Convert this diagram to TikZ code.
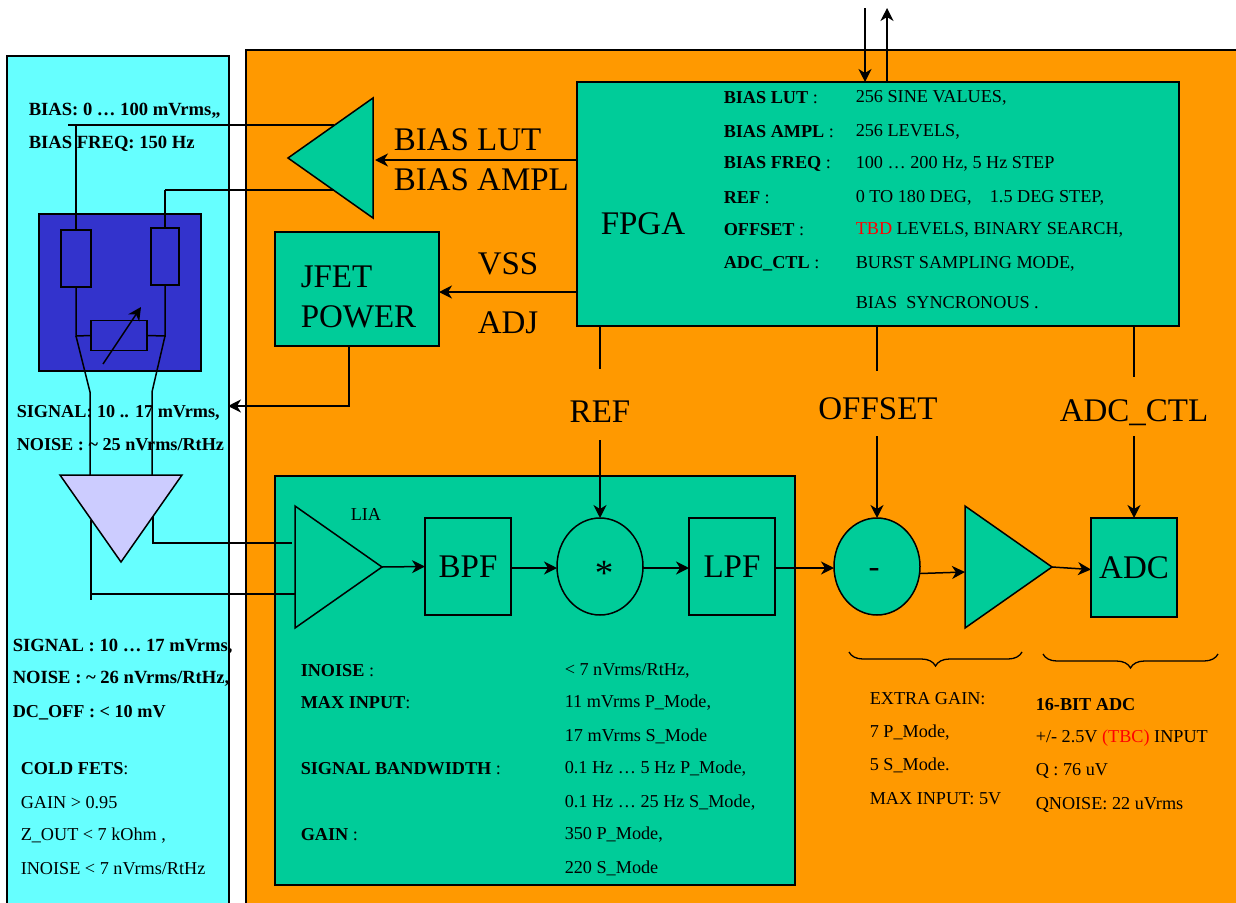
\documentclass[tikz,border=0pt]{standalone}
\usepackage{fontspec}
\setmainfont{Liberation Serif}
\usepackage{xcolor}
\usetikzlibrary{arrows.meta,shapes.geometric,decorations.pathreplacing}
\definecolor{panelcyan}{HTML}{66FFFF}
\definecolor{panelorange}{HTML}{FF9900}
\definecolor{blockgreen}{HTML}{00CC99}
\definecolor{bridgeblue}{HTML}{3333CC}
\definecolor{bufferlilac}{HTML}{CCCCFF}
\newcommand{\bigtxt}{\fontsize{33}{38}\selectfont}
\newcommand{\smalltxt}{\fontsize{18.2}{20}\selectfont}
\newcommand{\sidetxt}{\fontsize{18.6}{20}\selectfont}

\begin{document}
\begin{tikzpicture}[x=1pt,y=-1pt,line width=1.5pt,>={Stealth[length=13pt,width=13pt,inset=4pt]},
  block/.style={draw,fill=blockgreen,outer sep=0pt,inner sep=0pt},
  part/.style={draw,outer sep=0pt,inner sep=0pt,minimum width=#1},
  amp/.style={block,isosceles triangle,isosceles triangle stretches,minimum width=122,minimum height=87,shape border rotate=#1},
  big/.style={font=\bigtxt,inner sep=0pt,yshift=-1pt},
  txt/.style={font=\smalltxt,anchor=west,inner sep=0pt,xshift=-1pt,yshift=-1.5pt},
  btxt/.style={txt,font=\smalltxt\bfseries},
  sidekey/.style={txt,font=\sidetxt\bfseries},
  curly/.style={decorate,decoration={brace,amplitude=14pt},line width=1.3pt}]
\useasboundingbox (0,0) rectangle (1236,902);
\clip (0,0) rectangle (1236,902);

\draw[fill=panelcyan] (7,56) rectangle (229,910);
\draw[fill=panelorange] (246,50) rectangle (1245,910);
\node[part=162,minimum height=157,fill=bridgeblue] (bridge) at (120,292.5) {};

\node[block,minimum width=602,minimum height=244] (fpga) at (878,204) {};
\node[block,minimum width=164,minimum height=114] (jfet) at (357,289) {};
\node[block,minimum width=520,minimum height=409] (lia) at (535,680.5) {};
\node[amp=180,minimum width=120,minimum height=85,anchor=apex] (biasamp) at (288,158) {};
\node[amp=0,anchor=apex] (liaamp) at (382,567) {};
\node[amp=0,anchor=apex] (gainamp) at (1052,567) {};
\node[block,font=\bigtxt,minimum width=86,minimum height=97] (bpf) at (468,566.5) {BPF};
\node[block,font=\bigtxt,minimum width=86,minimum height=97] (lpf) at (732,566.5) {LPF};
\node[block,font=\bigtxt,minimum width=86,minimum height=99] (adc) at (1134,567.5) {ADC};
\node[block,ellipse,minimum width=86,minimum height=97] (mixer) at (600,566.5) {};
\node[block,ellipse,minimum width=86,minimum height=97] (subtract) at (877,566.5) {};
\node[big,font=\fontsize{37}{38}\selectfont] (mixsign) at (604,572) {*};
\node[big] (subsign) at (874,572) {-};

\node[part=30,minimum height=57] (rleft) at (76,258.5) {};
\node[part=28,minimum height=57] (rright) at (165,256.5) {};
\node[part=56,minimum height=30] (pot) at (119,335.5) {};
\coordinate (jleft) at (76,336);
\coordinate (jright) at (165,336);
\coordinate (sigleft) at (90,392);
\coordinate (sigright) at (152,392);
\draw (rleft.south) -- (jleft) -- (pot.west);
\draw (rright.south) -- (jright) -- (pot.east);
\coordinate (potfoot) at (103,364);
\coordinate (pottip) at (141,307);
\draw[->] (potfoot) -- (pottip);

\coordinate (biashigh) at (68,125);
\coordinate (biashighend) at (334,125);
\coordinate (biaslow) at (165,190);
\coordinate (biaslowend) at (334,190);
\draw (biashigh) -- (biashighend);
\draw (biaslow) -- (biaslowend);
\draw (rleft.north) -- (rleft.north |- biashigh);
\draw (rright.north) -- (biaslow);

\node[amp=270,fill=bufferlilac,anchor=apex] (buffer) at (121,562) {};
\coordinate (bufoutleft) at (91,520);
\coordinate (bufoutright) at (153,516);
\coordinate (liainhigh) at (292,543);
\coordinate (liainlow) at (295,594);
\draw (jleft) -- (sigleft) -- (sigleft |- buffer.lower side);
\draw (jright) -- (sigright) -- (sigright |- buffer.lower side);
\draw (bufoutleft) -- (91,600);
\draw (91,594) -- (liainlow);
\draw (bufoutright) -- (153,543) -- (liainhigh);

\coordinate (hostin) at (865,8);
\coordinate (hostout) at (887,8);
\draw[->] (hostin) -- (hostin |- fpga.north);
\draw[->] (hostout |- fpga.north) -- (hostout);
\draw[->] ([yshift=44pt]fpga.west) -- ([xshift=2pt,yshift=44pt]fpga.west -| biasamp.lower side);
\draw[->] ([yshift=-88pt]fpga.west) -- ([yshift=-3pt]jfet.east);
\coordinate (jfetdrop) at (349,406);
\draw[->] (jfet.south -| jfetdrop) -- (jfetdrop) -- (228,406);

\node[big] (reflabel) at (600,411) {REF};
\node[big] (offsetlabel) at (878,408) {OFFSET};
\node[big] (adcctllabel) at (1134,412) {ADC\_CTL};
\draw (fpga.south -| mixer) -- ++(0,43);
\draw (fpga.south -| subtract) -- ++(0,45);
\draw (fpga.south -| adc) -- ++(0,51);
\draw[->] (600,440) -- (mixer.north);
\draw[->] (877,436) -- (subtract.north);
\draw[->] (1134,436) -- (adc.north);

\coordinate (signalline) at (0,568);
\draw[->] (liaamp.apex) -- (bpf.west);
\draw[->] (bpf.east |- signalline) -- (mixer.west |- signalline);
\draw[->] (mixer.east |- signalline) -- (lpf.west |- signalline);
\draw[->] (lpf.east |- signalline) -- (subtract.west |- signalline);
\draw[->] ([yshift=-7pt]subtract.east) -- ([yshift=-5pt]gainamp.lower side);
\draw[->] (gainamp.apex) -- ([yshift=-2pt]adc.west);

\coordinate (bracegainl) at (849,652);
\coordinate (bracegainr) at (1022,652);
\coordinate (braceadcl) at (1043,654);
\coordinate (braceadcr) at (1218,654);
\draw[curly] (bracegainr) -- (bracegainl);
\draw[curly] (braceadcr) -- (braceadcl);

\node[big,anchor=west,xshift=-1pt] (lutlabel) at (394,139) {BIAS LUT};
\node[big,anchor=west,xshift=-1pt] (ampllabel) at (394,179) {BIAS AMPL};
\node[big,anchor=west,xshift=-1pt] (vsslabel) at (478,263) {VSS};
\node[big,anchor=west,xshift=-1pt] (adjlabel) at (478,322) {ADJ};
\node[big,anchor=west,xshift=-1pt] (jfetlabel) at (301,276) {JFET};
\node[big,anchor=west,xshift=-1pt] (powerlabel) at (301,316) {POWER};
\node[big,anchor=west,xshift=-1pt] (fpgalabel) at (601,223) {FPGA};
\node[txt] (lialabel) at (351,513) {LIA};

\node[btxt] (biaslut) at (724,96) {BIAS LUT \textmd{:}};
\node[btxt] (biasampl) at (724,130) {BIAS AMPL \textmd{:}};
\node[btxt] (biasfreq) at (724,162) {BIAS FREQ \textmd{:}};
\node[btxt] (refkey) at (724,196) {REF \textmd{:}};
\node[btxt] (offsetkey) at (724,228) {OFFSET \textmd{:}};
\node[btxt] (adcctlkey) at (724,262) {ADC\_CTL \textmd{:}};
\node[txt] (lutval) at (856,96) {256 SINE VALUES,};
\node[txt] (amplval) at (856,130) {256 LEVELS,};
\node[txt] (freqval) at (856,162) {100 … 200 Hz, 5 Hz STEP};
\node[txt] (refval) at (856,196) {0 TO 180 DEG,\quad 1.5 DEG STEP,};
\node[txt] (offsetval) at (856,228) {\textcolor{red}{TBD} LEVELS, BINARY SEARCH,};
\node[txt] (adcctlval) at (856,262) {BURST SAMPLING MODE,};
\node[txt] (syncval) at (856,301) {BIAS\ \ SYNCRONOUS .};

\node[sidekey] (biasinfo) at (29,109) {BIAS: 0 … 100 mVrms,,};
\node[sidekey] (freqinfo) at (29,142) {BIAS FREQ: 150 Hz};
\node[btxt] (signalhigh) at (17,411) {SIGNAL: 10 .. 17 mVrms,};
\node[btxt] (noisehigh) at (17,443) {NOISE : \textasciitilde{} 25 nVrms/RtHz};
\node[sidekey] (signallow) at (13,645) {SIGNAL : 10 … 17 mVrms,};
\node[sidekey] (noiselow) at (13,677) {NOISE : \textasciitilde{} 26 nVrms/RtHz,};
\node[btxt] (dcoff) at (13,711) {DC\_OFF : < 10 mV};
\node[btxt] (coldfets) at (21,767) {COLD FETS\textmd{:}};
\node[txt] (fetgain) at (21,801) {GAIN > 0.95};
\node[txt] (fetzout) at (21,834) {Z\_OUT < 7 kOhm ,};
\node[txt] (fetnoise) at (21,867) {INOISE < 7 nVrms/RtHz};

\node[btxt] (inoisekey) at (301,669) {INOISE \textmd{:}};
\node[btxt] (maxkey) at (301,701) {MAX INPUT\textmd{:}};
\node[btxt] (bandkey) at (301,767) {SIGNAL BANDWIDTH \textmd{:}};
\node[btxt] (gainkey) at (301,833) {GAIN \textmd{:}};
\node[txt] (inoiseval) at (565,669) {< 7 nVrms/RtHz,};
\node[txt] (maxpval) at (565,701) {11 mVrms P\_Mode,};
\node[txt] (maxsval) at (565,735) {17 mVrms S\_Mode};
\node[txt] (bandpval) at (565,767) {0.1 Hz … 5 Hz P\_Mode,};
\node[txt] (bandsval) at (565,801) {0.1 Hz … 25 Hz S\_Mode,};
\node[txt] (gainpval) at (565,833) {350 P\_Mode,};
\node[txt] (gainsval) at (565,867) {220 S\_Mode};

\node[txt] (extragain) at (870,697) {EXTRA GAIN:};
\node[txt] (extrap) at (870,731) {7 P\_Mode,};
\node[txt] (extras) at (870,764) {5 S\_Mode.};
\node[txt] (extramax) at (870,797) {MAX INPUT: 5V};
\node[btxt] (adcbits) at (1036,703) {16-BIT ADC};
\node[txt] (adcinput) at (1036,737) {+/- 2.5V \textcolor{red}{(TBC)} INPUT};
\node[txt] (adcq) at (1036,769) {Q : 76 uV};
\node[txt] (adcnoise) at (1036,803) {QNOISE: 22 uVrms};
\end{tikzpicture}
\end{document}
